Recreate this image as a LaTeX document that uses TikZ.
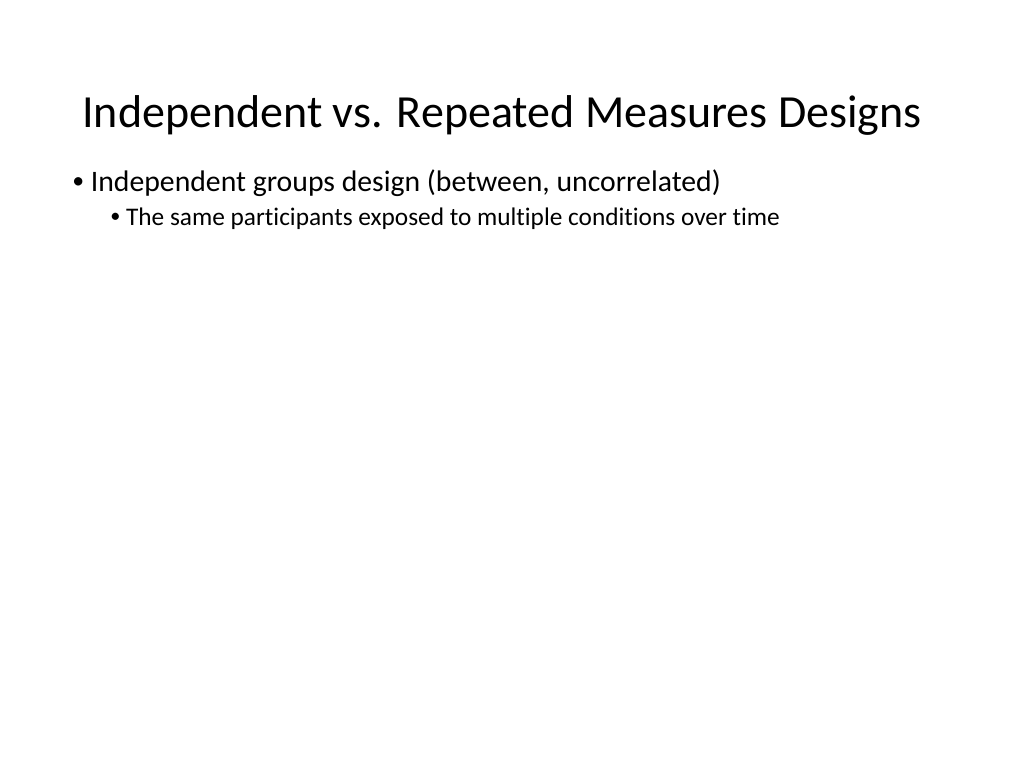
\documentclass[tikz,border=0pt]{standalone}
\usepackage{fontspec}
\setmainfont[Ligatures={NoCommon}]{Carlito}
\newcommand{\bul}{{\fontsize{0.8em}{1em}\selectfont\raisebox{0.1em}{\textbullet}}\ }
\begin{document}
\begin{tikzpicture}[x=0.75pt,y=-0.75pt,
  tt/.style={anchor=base west,inner sep=0pt},
  cell/.style={font=\fontsize{14}{15}\selectfont,inner sep=0pt},
  hd/.style={cell,font=\fontsize{13.9}{15}\selectfont\bfseries}]
\useasboundingbox[fill=white] (0,0) rectangle (1024,768);
\node[tt,font=\fontsize{34.5}{38}\selectfont] (title) at (82,127) {Independent vs. Repeated Measures Designs};
\node[tt,font=\fontsize{22.3}{24}\selectfont] (b1) at (72,191) {\bul Independent groups design (between, uncorrelated)};
\node[tt,font=\fontsize{19}{20}\selectfont] (b1a) at (110,225) {\bul The same participants exposed to multiple conditions over time};
\end{tikzpicture}
\end{document}
